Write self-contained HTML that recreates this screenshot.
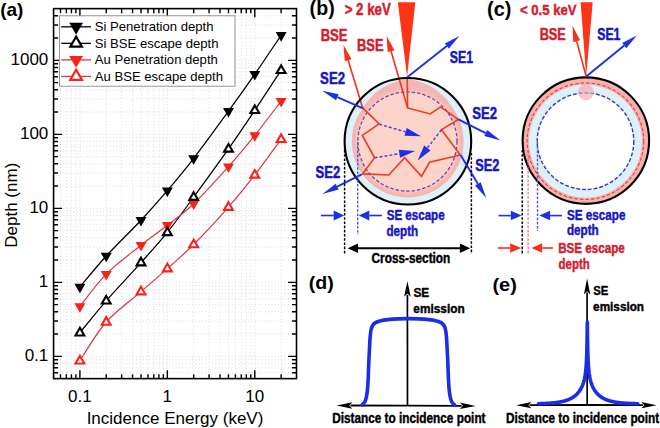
<!DOCTYPE html>
<html><head><meta charset="utf-8"><style>
html,body{margin:0;padding:0;background:#fff;}
svg{display:block;font-family:"Liberation Sans",sans-serif;}
</style></head><body>
<svg width="660" height="428" viewBox="0 0 660 428">
<defs><filter id="bl" x="-20%" y="-20%" width="140%" height="140%"><feGaussianBlur stdDeviation="1.6"/></filter></defs>
<rect width="660" height="428" fill="#fff"/>
<g stroke="#d4d4d4" stroke-width="0.85" stroke-dasharray="1 2.3" fill="none"><line x1="60.50" y1="8.63" x2="60.50" y2="378.63"/><line x1="66.35" y1="8.63" x2="66.35" y2="378.63"/><line x1="71.43" y1="8.63" x2="71.43" y2="378.63"/><line x1="75.90" y1="8.63" x2="75.90" y2="378.63"/><line x1="79.90" y1="8.63" x2="79.90" y2="378.63"/><line x1="106.23" y1="8.63" x2="106.23" y2="378.63"/><line x1="121.62" y1="8.63" x2="121.62" y2="378.63"/><line x1="132.55" y1="8.63" x2="132.55" y2="378.63"/><line x1="141.02" y1="8.63" x2="141.02" y2="378.63"/><line x1="147.95" y1="8.63" x2="147.95" y2="378.63"/><line x1="153.80" y1="8.63" x2="153.80" y2="378.63"/><line x1="158.88" y1="8.63" x2="158.88" y2="378.63"/><line x1="163.35" y1="8.63" x2="163.35" y2="378.63"/><line x1="167.35" y1="8.63" x2="167.35" y2="378.63"/><line x1="193.68" y1="8.63" x2="193.68" y2="378.63"/><line x1="209.07" y1="8.63" x2="209.07" y2="378.63"/><line x1="220.00" y1="8.63" x2="220.00" y2="378.63"/><line x1="228.47" y1="8.63" x2="228.47" y2="378.63"/><line x1="235.40" y1="8.63" x2="235.40" y2="378.63"/><line x1="241.25" y1="8.63" x2="241.25" y2="378.63"/><line x1="246.33" y1="8.63" x2="246.33" y2="378.63"/><line x1="250.80" y1="8.63" x2="250.80" y2="378.63"/><line x1="254.80" y1="8.63" x2="254.80" y2="378.63"/><line x1="281.13" y1="8.63" x2="281.13" y2="378.63"/><line x1="53.57" y1="372.77" x2="296.52" y2="372.77"/><line x1="53.57" y1="367.81" x2="296.52" y2="367.81"/><line x1="53.57" y1="363.52" x2="296.52" y2="363.52"/><line x1="53.57" y1="359.74" x2="296.52" y2="359.74"/><line x1="53.57" y1="356.35" x2="296.52" y2="356.35"/><line x1="53.57" y1="334.07" x2="296.52" y2="334.07"/><line x1="53.57" y1="321.04" x2="296.52" y2="321.04"/><line x1="53.57" y1="311.80" x2="296.52" y2="311.80"/><line x1="53.57" y1="304.63" x2="296.52" y2="304.63"/><line x1="53.57" y1="298.77" x2="296.52" y2="298.77"/><line x1="53.57" y1="293.81" x2="296.52" y2="293.81"/><line x1="53.57" y1="289.52" x2="296.52" y2="289.52"/><line x1="53.57" y1="285.74" x2="296.52" y2="285.74"/><line x1="53.57" y1="282.35" x2="296.52" y2="282.35"/><line x1="53.57" y1="260.07" x2="296.52" y2="260.07"/><line x1="53.57" y1="247.04" x2="296.52" y2="247.04"/><line x1="53.57" y1="237.80" x2="296.52" y2="237.80"/><line x1="53.57" y1="230.63" x2="296.52" y2="230.63"/><line x1="53.57" y1="224.77" x2="296.52" y2="224.77"/><line x1="53.57" y1="219.81" x2="296.52" y2="219.81"/><line x1="53.57" y1="215.52" x2="296.52" y2="215.52"/><line x1="53.57" y1="211.74" x2="296.52" y2="211.74"/><line x1="53.57" y1="208.35" x2="296.52" y2="208.35"/><line x1="53.57" y1="186.07" x2="296.52" y2="186.07"/><line x1="53.57" y1="173.04" x2="296.52" y2="173.04"/><line x1="53.57" y1="163.80" x2="296.52" y2="163.80"/><line x1="53.57" y1="156.63" x2="296.52" y2="156.63"/><line x1="53.57" y1="150.77" x2="296.52" y2="150.77"/><line x1="53.57" y1="145.81" x2="296.52" y2="145.81"/><line x1="53.57" y1="141.52" x2="296.52" y2="141.52"/><line x1="53.57" y1="137.74" x2="296.52" y2="137.74"/><line x1="53.57" y1="134.35" x2="296.52" y2="134.35"/><line x1="53.57" y1="112.07" x2="296.52" y2="112.07"/><line x1="53.57" y1="99.04" x2="296.52" y2="99.04"/><line x1="53.57" y1="89.80" x2="296.52" y2="89.80"/><line x1="53.57" y1="82.63" x2="296.52" y2="82.63"/><line x1="53.57" y1="76.77" x2="296.52" y2="76.77"/><line x1="53.57" y1="71.81" x2="296.52" y2="71.81"/><line x1="53.57" y1="67.52" x2="296.52" y2="67.52"/><line x1="53.57" y1="63.74" x2="296.52" y2="63.74"/><line x1="53.57" y1="60.35" x2="296.52" y2="60.35"/><line x1="53.57" y1="38.07" x2="296.52" y2="38.07"/><line x1="53.57" y1="25.04" x2="296.52" y2="25.04"/><line x1="53.57" y1="15.80" x2="296.52" y2="15.80"/></g>
<path d="M79.90,287.00C84.29,281.83 96.04,267.13 106.23,256.00C116.41,244.87 130.84,231.08 141.02,220.20C151.21,209.32 158.57,201.00 167.35,190.70C176.13,180.40 183.49,171.65 193.68,158.40C203.86,145.15 218.29,125.25 228.47,111.20C238.66,97.15 246.02,86.75 254.80,74.10C263.58,61.45 276.74,41.77 281.13,35.30" fill="none" stroke="#000" stroke-width="1.25"/>
<path d="M79.90,332.70C84.29,327.38 96.04,312.48 106.23,300.80C116.41,289.12 130.84,274.00 141.02,262.60C151.21,251.20 158.57,243.32 167.35,232.40C176.13,221.48 183.49,211.02 193.68,197.10C203.86,183.18 218.29,163.37 228.47,148.90C238.66,134.43 246.02,123.40 254.80,110.30C263.58,97.20 276.74,76.97 281.13,70.30" fill="none" stroke="#000" stroke-width="1.25"/>
<path d="M79.90,306.40C84.29,301.02 96.04,284.30 106.23,274.10C116.41,263.90 130.84,253.33 141.02,245.20C151.21,237.07 158.57,232.22 167.35,225.30C176.13,218.38 183.49,213.48 193.68,203.70C203.86,193.92 218.29,177.98 228.47,166.60C238.66,155.22 246.02,146.32 254.80,135.40C263.58,124.48 276.74,106.82 281.13,101.10" fill="none" stroke="#da3446" stroke-width="1.2"/>
<path d="M79.90,360.70C84.29,354.25 96.04,333.52 106.23,322.00C116.41,310.48 130.84,300.50 141.02,291.60C151.21,282.70 158.57,276.45 167.35,268.60C176.13,260.75 183.49,254.75 193.68,244.50C203.86,234.25 218.29,218.70 228.47,207.10C238.66,195.50 246.02,186.20 254.80,174.90C263.58,163.60 276.74,145.23 281.13,139.30" fill="none" stroke="#da3446" stroke-width="1.2"/>
<path d="M79.90,355.82L84.30,363.44L75.50,363.44Z" fill="#fff" stroke="#fa2216" stroke-width="2.1"/>
<path d="M106.23,317.12L110.63,324.74L101.83,324.74Z" fill="#fff" stroke="#fa2216" stroke-width="2.1"/>
<path d="M141.02,286.72L145.42,294.34L136.62,294.34Z" fill="#fff" stroke="#fa2216" stroke-width="2.1"/>
<path d="M167.35,263.72L171.75,271.34L162.95,271.34Z" fill="#fff" stroke="#fa2216" stroke-width="2.1"/>
<path d="M193.68,239.62L198.08,247.24L189.28,247.24Z" fill="#fff" stroke="#fa2216" stroke-width="2.1"/>
<path d="M228.47,202.22L232.87,209.84L224.07,209.84Z" fill="#fff" stroke="#fa2216" stroke-width="2.1"/>
<path d="M254.80,170.02L259.20,177.64L250.40,177.64Z" fill="#fff" stroke="#fa2216" stroke-width="2.1"/>
<path d="M281.13,134.42L285.53,142.04L276.73,142.04Z" fill="#fff" stroke="#fa2216" stroke-width="2.1"/>
<path d="M74.40,303.22L85.40,303.22L79.90,312.75Z" fill="#fa2216"/>
<path d="M100.73,270.92L111.73,270.92L106.23,280.45Z" fill="#fa2216"/>
<path d="M135.52,242.02L146.52,242.02L141.02,251.55Z" fill="#fa2216"/>
<path d="M161.85,222.12L172.85,222.12L167.35,231.65Z" fill="#fa2216"/>
<path d="M188.18,200.52L199.18,200.52L193.68,210.05Z" fill="#fa2216"/>
<path d="M222.97,163.42L233.97,163.42L228.47,172.95Z" fill="#fa2216"/>
<path d="M249.30,132.22L260.30,132.22L254.80,141.75Z" fill="#fa2216"/>
<path d="M275.63,97.92L286.63,97.92L281.13,107.45Z" fill="#fa2216"/>
<path d="M79.90,327.82L84.30,335.44L75.50,335.44Z" fill="#fff" stroke="#000" stroke-width="2.1"/>
<path d="M106.23,295.92L110.63,303.54L101.83,303.54Z" fill="#fff" stroke="#000" stroke-width="2.1"/>
<path d="M141.02,257.72L145.42,265.34L136.62,265.34Z" fill="#fff" stroke="#000" stroke-width="2.1"/>
<path d="M167.35,227.52L171.75,235.14L162.95,235.14Z" fill="#fff" stroke="#000" stroke-width="2.1"/>
<path d="M193.68,192.22L198.08,199.84L189.28,199.84Z" fill="#fff" stroke="#000" stroke-width="2.1"/>
<path d="M228.47,144.02L232.87,151.64L224.07,151.64Z" fill="#fff" stroke="#000" stroke-width="2.1"/>
<path d="M254.80,105.42L259.20,113.04L250.40,113.04Z" fill="#fff" stroke="#000" stroke-width="2.1"/>
<path d="M281.13,65.42L285.53,73.04L276.73,73.04Z" fill="#fff" stroke="#000" stroke-width="2.1"/>
<path d="M74.40,283.82L85.40,283.82L79.90,293.35Z" fill="#000"/>
<path d="M100.73,252.82L111.73,252.82L106.23,262.35Z" fill="#000"/>
<path d="M135.52,217.02L146.52,217.02L141.02,226.55Z" fill="#000"/>
<path d="M161.85,187.52L172.85,187.52L167.35,197.05Z" fill="#000"/>
<path d="M188.18,155.22L199.18,155.22L193.68,164.75Z" fill="#000"/>
<path d="M222.97,108.02L233.97,108.02L228.47,117.55Z" fill="#000"/>
<path d="M249.30,70.92L260.30,70.92L254.80,80.45Z" fill="#000"/>
<path d="M275.63,32.12L286.63,32.12L281.13,41.65Z" fill="#000"/>
<path d="M60.50,378.63v-4.5M60.50,8.63v4.5M66.35,378.63v-4.5M66.35,8.63v4.5M71.43,378.63v-4.5M71.43,8.63v4.5M75.90,378.63v-4.5M75.90,8.63v4.5M106.23,378.63v-4.5M106.23,8.63v4.5M121.62,378.63v-4.5M121.62,8.63v4.5M132.55,378.63v-4.5M132.55,8.63v4.5M141.02,378.63v-4.5M141.02,8.63v4.5M147.95,378.63v-4.5M147.95,8.63v4.5M153.80,378.63v-4.5M153.80,8.63v4.5M158.88,378.63v-4.5M158.88,8.63v4.5M163.35,378.63v-4.5M163.35,8.63v4.5M193.68,378.63v-4.5M193.68,8.63v4.5M209.07,378.63v-4.5M209.07,8.63v4.5M220.00,378.63v-4.5M220.00,8.63v4.5M228.47,378.63v-4.5M228.47,8.63v4.5M235.40,378.63v-4.5M235.40,8.63v4.5M241.25,378.63v-4.5M241.25,8.63v4.5M246.33,378.63v-4.5M246.33,8.63v4.5M250.80,378.63v-4.5M250.80,8.63v4.5M281.13,378.63v-4.5M281.13,8.63v4.5M53.57,372.77h4.5M296.52,372.77h-4.5M53.57,367.81h4.5M296.52,367.81h-4.5M53.57,363.52h4.5M296.52,363.52h-4.5M53.57,359.74h4.5M296.52,359.74h-4.5M53.57,334.07h4.5M296.52,334.07h-4.5M53.57,321.04h4.5M296.52,321.04h-4.5M53.57,311.80h4.5M296.52,311.80h-4.5M53.57,304.63h4.5M296.52,304.63h-4.5M53.57,298.77h4.5M296.52,298.77h-4.5M53.57,293.81h4.5M296.52,293.81h-4.5M53.57,289.52h4.5M296.52,289.52h-4.5M53.57,285.74h4.5M296.52,285.74h-4.5M53.57,260.07h4.5M296.52,260.07h-4.5M53.57,247.04h4.5M296.52,247.04h-4.5M53.57,237.80h4.5M296.52,237.80h-4.5M53.57,230.63h4.5M296.52,230.63h-4.5M53.57,224.77h4.5M296.52,224.77h-4.5M53.57,219.81h4.5M296.52,219.81h-4.5M53.57,215.52h4.5M296.52,215.52h-4.5M53.57,211.74h4.5M296.52,211.74h-4.5M53.57,186.07h4.5M296.52,186.07h-4.5M53.57,173.04h4.5M296.52,173.04h-4.5M53.57,163.80h4.5M296.52,163.80h-4.5M53.57,156.63h4.5M296.52,156.63h-4.5M53.57,150.77h4.5M296.52,150.77h-4.5M53.57,145.81h4.5M296.52,145.81h-4.5M53.57,141.52h4.5M296.52,141.52h-4.5M53.57,137.74h4.5M296.52,137.74h-4.5M53.57,112.07h4.5M296.52,112.07h-4.5M53.57,99.04h4.5M296.52,99.04h-4.5M53.57,89.80h4.5M296.52,89.80h-4.5M53.57,82.63h4.5M296.52,82.63h-4.5M53.57,76.77h4.5M296.52,76.77h-4.5M53.57,71.81h4.5M296.52,71.81h-4.5M53.57,67.52h4.5M296.52,67.52h-4.5M53.57,63.74h4.5M296.52,63.74h-4.5M53.57,38.07h4.5M296.52,38.07h-4.5M53.57,25.04h4.5M296.52,25.04h-4.5M53.57,15.80h4.5M296.52,15.80h-4.5M79.90,378.63v-8.5M79.90,8.63v8.5M167.35,378.63v-8.5M167.35,8.63v8.5M254.80,378.63v-8.5M254.80,8.63v8.5M53.57,356.35h8.5M296.52,356.35h-8.5M53.57,282.35h8.5M296.52,282.35h-8.5M53.57,208.35h8.5M296.52,208.35h-8.5M53.57,134.35h8.5M296.52,134.35h-8.5M53.57,60.35h8.5M296.52,60.35h-8.5" stroke="#000" stroke-width="1.4" fill="none"/>
<rect x="53.57" y="8.63" width="242.95" height="370.00" fill="none" stroke="#000" stroke-width="1.6"/>
<rect x="59.5" y="15.8" width="175.5" height="70.4" fill="#fff" stroke="#8a8a8a" stroke-width="0.9"/>
<line x1="61.2" y1="26.80" x2="91" y2="26.80" stroke="#000" stroke-width="1.3"/>
<path d="M69.20,22.82L83.00,22.82L76.10,34.77Z" fill="#000"/>
<text x="94.80" y="31.10" font-size="13.1" fill="#000">Si Penetration depth</text>
<line x1="61.2" y1="43.35" x2="91" y2="43.35" stroke="#000" stroke-width="1.3"/>
<path d="M76.10,36.65L81.90,46.70L70.30,46.70Z" fill="#fff" stroke="#000" stroke-width="2.2"/>
<text x="94.80" y="47.65" font-size="13.1" fill="#000">Si BSE escape depth</text>
<line x1="61.2" y1="59.90" x2="91" y2="59.90" stroke="#da3446" stroke-width="1.3"/>
<path d="M69.20,55.92L83.00,55.92L76.10,67.87Z" fill="#fa2216"/>
<text x="94.80" y="64.20" font-size="13.1" fill="#000">Au Penetration depth</text>
<line x1="61.2" y1="76.45" x2="91" y2="76.45" stroke="#da3446" stroke-width="1.3"/>
<path d="M76.10,69.75L81.90,79.80L70.30,79.80Z" fill="#fff" stroke="#fa2216" stroke-width="2.2"/>
<text x="94.80" y="80.75" font-size="13.1" fill="#000">Au BSE escape depth</text>
<text x="48.30" y="64.95" font-size="17" text-anchor="end" fill="#000">1000</text>
<text x="48.30" y="138.95" font-size="17" text-anchor="end" fill="#000">100</text>
<text x="48.30" y="212.95" font-size="17" text-anchor="end" fill="#000">10</text>
<text x="48.30" y="286.95" font-size="17" text-anchor="end" fill="#000">1</text>
<text x="48.30" y="360.95" font-size="17" text-anchor="end" fill="#000">0.1</text>
<text x="79.90" y="401.80" font-size="17" text-anchor="middle" fill="#000">0.1</text>
<text x="167.35" y="401.80" font-size="17" text-anchor="middle" fill="#000">1</text>
<text x="254.80" y="401.80" font-size="17" text-anchor="middle" fill="#000">10</text>
<text x="175.00" y="423.80" font-size="17" text-anchor="middle" fill="#000">Incidence Energy (keV)</text>
<g transform="translate(16.9,205.2) rotate(-90)"><text x="0.00" y="0.00" font-size="17" text-anchor="middle" fill="#000">Depth (nm)</text></g>
<text x="0.20" y="15.80" font-size="19" font-weight="bold" fill="#000">(a)</text>
<text transform="translate(309.62,15.10) scale(1.0063,1)" font-size="19.5" font-weight="bold" fill="#000">(b)</text>
<text transform="translate(344.64,15.40) scale(0.8197,1)" font-size="16.2" font-weight="bold" fill="#d41c2e" stroke="#d41c2e" stroke-width="0.5" stroke-linejoin="round">&gt; 2 keV</text>
<text transform="translate(320.63,41.00) scale(0.8040,1)" font-size="16.2" font-weight="bold" fill="#d41c2e" stroke="#d41c2e" stroke-width="0.5" stroke-linejoin="round">BSE</text>
<text transform="translate(357.04,50.90) scale(0.7976,1)" font-size="16.2" font-weight="bold" fill="#d41c2e" stroke="#d41c2e" stroke-width="0.5" stroke-linejoin="round">BSE</text>
<text transform="translate(449.84,62.80) scale(0.7609,1)" font-size="16.2" font-weight="bold" fill="#1616c0" stroke="#1616c0" stroke-width="0.5" stroke-linejoin="round">SE1</text>
<text transform="translate(320.12,83.80) scale(0.7938,1)" font-size="16.6" font-weight="bold" fill="#1616c0" stroke="#1616c0" stroke-width="0.5" stroke-linejoin="round">SE2</text>
<text transform="translate(472.22,118.90) scale(0.8100,1)" font-size="16.2" font-weight="bold" fill="#1616c0" stroke="#1616c0" stroke-width="0.5" stroke-linejoin="round">SE2</text>
<text transform="translate(475.23,170.70) scale(0.7897,1)" font-size="16.2" font-weight="bold" fill="#1616c0" stroke="#1616c0" stroke-width="0.5" stroke-linejoin="round">SE2</text>
<text transform="translate(315.52,177.80) scale(0.8100,1)" font-size="16.2" font-weight="bold" fill="#1616c0" stroke="#1616c0" stroke-width="0.5" stroke-linejoin="round">SE2</text>
<circle cx="407.9" cy="141.25" r="63.3" fill="#def0fa"/>
<polygon points="463.65,141.50 463.64,142.48 463.62,143.45 463.57,144.43 463.51,145.40 463.44,146.37 463.34,147.34 463.23,148.31 463.11,149.28 462.96,150.24 462.80,151.21 462.62,152.17 462.43,153.12 462.22,154.07 461.99,155.02 461.75,155.97 461.48,156.91 461.21,157.84 460.91,158.77 460.60,159.70 460.28,160.62 459.94,161.53 459.58,162.44 459.21,163.34 458.82,164.24 458.41,165.12 457.99,166.00 457.56,166.88 457.11,167.74 456.64,168.60 456.16,169.45 455.67,170.29 455.16,171.12 454.63,171.95 454.09,172.76 453.54,173.56 452.97,174.36 452.39,175.14 451.80,175.92 451.19,176.68 450.57,177.43 449.94,178.17 449.29,178.90 448.63,179.62 447.96,180.33 447.28,181.03 446.58,181.71 445.87,182.38 445.15,183.04 444.42,183.69 443.68,184.32 442.93,184.94 442.17,185.55 441.39,186.14 440.61,186.72 439.81,187.29 439.01,187.84 438.20,188.38 437.37,188.91 436.54,189.42 435.70,189.91 434.85,190.39 433.99,190.86 433.13,191.31 432.25,191.74 431.37,192.16 430.49,192.57 429.59,192.96 428.69,193.33 427.78,193.69 426.87,194.03 425.95,194.35 425.02,194.66 424.09,194.96 423.16,195.23 422.22,195.50 421.27,195.74 420.32,195.97 419.37,196.18 418.42,196.37 417.46,196.55 416.49,196.71 415.53,196.86 414.56,196.98 413.59,197.09 412.62,197.19 411.65,197.26 410.68,197.32 409.70,197.37 408.73,197.39 407.75,197.40 406.77,197.39 405.80,197.37 404.82,197.32 403.85,197.26 402.88,197.19 401.91,197.09 400.94,196.98 399.97,196.86 399.01,196.71 398.04,196.55 397.08,196.37 396.13,196.18 395.18,195.97 394.23,195.74 393.28,195.50 392.34,195.23 391.41,194.96 390.48,194.66 389.55,194.35 388.63,194.03 387.72,193.69 386.81,193.33 385.91,192.96 385.01,192.57 384.13,192.16 383.25,191.74 382.37,191.31 381.51,190.86 380.65,190.39 379.80,189.91 378.96,189.42 378.13,188.91 377.30,188.38 376.49,187.84 375.69,187.29 374.89,186.72 374.11,186.14 373.33,185.55 372.57,184.94 371.82,184.32 371.08,183.69 370.35,183.04 369.63,182.38 368.92,181.71 368.22,181.03 367.54,180.33 366.87,179.62 366.21,178.90 365.56,178.17 364.93,177.43 364.31,176.68 363.70,175.92 363.11,175.14 362.53,174.36 361.96,173.56 361.41,172.76 360.87,171.95 360.34,171.12 359.83,170.29 359.34,169.45 358.86,168.60 358.39,167.74 357.94,166.88 357.51,166.00 357.09,165.12 356.68,164.24 356.29,163.34 355.92,162.44 355.56,161.53 355.22,160.62 354.90,159.70 354.59,158.77 354.29,157.84 354.02,156.91 353.75,155.97 353.51,155.02 353.28,154.07 353.07,153.12 352.88,152.17 352.70,151.21 352.54,150.24 352.39,149.28 352.27,148.31 352.16,147.34 352.06,146.37 351.99,145.40 351.93,144.43 351.88,143.45 351.86,142.48 351.85,141.50 351.86,140.52 351.88,139.55 351.93,138.57 351.99,137.60 352.06,136.63 352.16,135.66 352.27,134.69 352.39,133.72 352.54,132.76 352.70,131.79 352.88,130.83 353.07,129.88 353.28,128.93 353.51,127.98 353.75,127.03 354.02,126.09 354.29,125.16 354.59,124.23 354.90,123.30 355.22,122.38 355.56,121.47 355.92,120.56 356.29,119.66 356.68,118.76 357.09,117.88 357.51,117.00 357.94,116.12 358.39,115.26 358.86,114.40 359.34,113.55 359.83,112.71 360.34,111.88 360.87,111.05 361.41,110.24 361.96,109.44 362.46,108.60 362.97,107.76 363.49,106.92 364.02,106.09 364.57,105.27 365.13,104.45 365.71,103.65 366.30,102.84 366.90,102.05 367.52,101.27 368.15,100.49 368.80,99.73 369.46,98.97 370.13,98.22 370.82,97.49 371.52,96.76 372.23,96.04 372.96,95.34 373.71,94.64 374.46,93.96 375.23,93.29 376.01,92.63 376.81,91.98 377.61,91.35 378.43,90.72 379.27,90.12 380.11,89.52 380.97,88.94 381.84,88.37 382.72,87.81 383.61,87.27 384.51,86.75 385.42,86.23 386.34,85.74 387.28,85.26 388.22,84.79 389.18,84.34 390.14,83.90 391.11,83.48 392.10,83.08 393.09,82.70 394.09,82.32 395.10,81.97 396.11,81.64 397.14,81.32 398.17,81.01 399.21,80.73 400.26,80.46 401.31,80.21 402.37,79.98 403.43,79.77 404.50,79.57 405.58,79.40 406.66,79.24 407.75,79.10 408.84,79.24 409.92,79.40 411.00,79.57 412.07,79.77 413.13,79.98 414.19,80.21 415.24,80.46 416.29,80.73 417.33,81.01 418.36,81.32 419.39,81.64 420.40,81.97 421.41,82.32 422.41,82.70 423.40,83.08 424.39,83.48 425.36,83.90 426.32,84.34 427.28,84.79 428.22,85.26 429.16,85.74 430.08,86.23 430.99,86.75 431.89,87.27 432.78,87.81 433.66,88.37 434.53,88.94 435.39,89.52 436.23,90.12 437.07,90.72 437.89,91.35 438.69,91.98 439.49,92.63 440.27,93.29 441.04,93.96 441.79,94.64 442.54,95.34 443.27,96.04 443.98,96.76 444.68,97.49 445.37,98.22 446.04,98.97 446.70,99.73 447.35,100.49 447.98,101.27 448.60,102.05 449.20,102.84 449.79,103.65 450.37,104.45 450.93,105.27 451.48,106.09 452.01,106.92 452.53,107.76 453.04,108.60 453.54,109.44 454.09,110.24 454.63,111.05 455.16,111.88 455.67,112.71 456.16,113.55 456.64,114.40 457.11,115.26 457.56,116.12 457.99,117.00 458.41,117.88 458.82,118.76 459.21,119.66 459.58,120.56 459.94,121.47 460.28,122.38 460.60,123.30 460.91,124.23 461.21,125.16 461.48,126.09 461.75,127.03 461.99,127.98 462.22,128.93 462.43,129.88 462.62,130.83 462.80,131.79 462.96,132.76 463.11,133.72 463.23,134.69 463.34,135.66 463.44,136.63 463.51,137.60 463.57,138.57 463.62,139.55 463.64,140.52 463.65,141.50" fill="#f6b6b0"/>
<circle cx="407.5" cy="141.5" r="51" fill="#fcd4ca" filter="url(#bl)"/>
<circle cx="407.45" cy="141.5" r="49.6" fill="none" stroke="#6446b4" stroke-width="1.3" stroke-dasharray="3.4 2"/>
<polyline points="407.2,77.5 407.6,107.9 430.3,114 440.6,106.9 458.3,119.5 441.5,129.7 460.3,155 429.5,162.3 421.5,176.4 404.6,157.6 388.8,175 362.5,173.9 374.6,157.8 362.3,135.4 379.2,123.8 362.7,107.9" fill="none" stroke="#ee3a24" stroke-width="1.6" stroke-linejoin="miter"/>
<line x1="362.70" y1="107.90" x2="348.16" y2="60.21" stroke="#f5301c" stroke-width="1.6"/><path d="M343.50,44.90L351.51,59.18L344.82,61.23Z" fill="#f5301c"/>
<line x1="407.60" y1="107.90" x2="391.08" y2="51.26" stroke="#f5301c" stroke-width="1.6"/><path d="M386.60,35.90L394.44,50.28L387.72,52.24Z" fill="#f5301c"/>
<line x1="379.20" y1="124.20" x2="405.63" y2="131.85" stroke="#4a3ed2" stroke-width="1.4" stroke-dasharray="3 2"/><path d="M421.00,136.30L404.52,135.69L406.74,128.01Z" fill="#1c30e6"/>
<line x1="374.60" y1="157.80" x2="399.41" y2="153.71" stroke="#4a3ed2" stroke-width="1.4" stroke-dasharray="3 2"/><path d="M415.20,151.10L400.06,157.65L398.76,149.76Z" fill="#1c30e6"/>
<line x1="441.50" y1="129.70" x2="427.39" y2="147.94" stroke="#4a3ed2" stroke-width="1.4" stroke-dasharray="3 2"/><path d="M417.60,160.60L424.22,145.50L430.55,150.39Z" fill="#1c30e6"/>
<circle cx="407.9" cy="141.25" r="63.3" fill="none" stroke="#000" stroke-width="2.1"/>
<line x1="363.10" y1="108.30" x2="337.36" y2="97.22" stroke="#1c30e6" stroke-width="1.9"/><path d="M322.20,90.70L338.66,94.19L336.05,100.25Z" fill="#1c30e6"/>
<line x1="458.40" y1="119.40" x2="485.73" y2="133.04" stroke="#1c30e6" stroke-width="1.9"/><path d="M500.50,140.40L484.26,135.99L487.21,130.08Z" fill="#1c30e6"/>
<line x1="460.60" y1="155.00" x2="477.84" y2="183.84" stroke="#1c30e6" stroke-width="1.9"/><path d="M486.30,198.00L475.00,185.53L480.67,182.14Z" fill="#1c30e6"/>
<line x1="361.70" y1="174.40" x2="337.17" y2="186.64" stroke="#1c30e6" stroke-width="1.9"/><path d="M322.40,194.00L335.69,183.68L338.64,189.59Z" fill="#1c30e6"/>
<line x1="407.20" y1="77.20" x2="446.83" y2="46.00" stroke="#1c30e6" stroke-width="1.9"/><path d="M459.40,36.10L448.87,48.59L444.79,43.41Z" fill="#1c30e6"/>
<path d="M397.8,2.2 L415.3,2.2 L407.1,76.8Z" fill="#fb3516"/>
<line x1="344.6" y1="150" x2="344.6" y2="254" stroke="#000" stroke-width="1.45" stroke-dasharray="2.6 1.6"/>
<line x1="471.4" y1="153" x2="471.4" y2="254" stroke="#000" stroke-width="1.45" stroke-dasharray="2.6 1.6"/>
<line x1="357.7" y1="142" x2="357.7" y2="235" stroke="#5656d0" stroke-width="1.4" stroke-dasharray="2.6 1.6"/>
<line x1="320.80" y1="215.50" x2="333.70" y2="215.50" stroke="#1c30e6" stroke-width="1.6"/><path d="M344.20,215.50L333.70,220.50L333.70,210.50Z" fill="#1c30e6"/>
<line x1="381.90" y1="215.50" x2="369.30" y2="215.50" stroke="#1c30e6" stroke-width="1.6"/><path d="M358.80,215.50L369.30,210.50L369.30,220.50Z" fill="#1c30e6"/>
<text transform="translate(386.65,220.40) scale(0.8060,1)" font-size="14.4" font-weight="bold" fill="#1616c0" stroke="#1616c0" stroke-width="0.45" stroke-linejoin="round">SE escape</text>
<text transform="translate(386.50,235.60) scale(0.8099,1)" font-size="14.4" font-weight="bold" fill="#1616c0" stroke="#1616c0" stroke-width="0.45" stroke-linejoin="round">depth</text>
<line x1="409.00" y1="248.20" x2="358.00" y2="248.20" stroke="#000" stroke-width="2"/><path d="M347.70,248.20L358.00,243.40L358.00,253.00Z" fill="#000"/>
<line x1="409.00" y1="248.20" x2="459.90" y2="248.20" stroke="#000" stroke-width="2"/><path d="M470.20,248.20L459.90,253.00L459.90,243.40Z" fill="#000"/>
<text transform="translate(371.60,263.00) scale(0.8202,1)" font-size="14.4" font-weight="bold" fill="#000" stroke="#000" stroke-width="0.45" stroke-linejoin="round">Cross-section</text>
<text transform="translate(487.01,15.80) scale(1.0233,1)" font-size="19.5" font-weight="bold" fill="#000">(c)</text>
<text transform="translate(519.93,14.80) scale(0.9010,1)" font-size="14.6" font-weight="bold" fill="#d41c2e" stroke="#d41c2e" stroke-width="0.45" stroke-linejoin="round">&lt; 0.5 keV</text>
<text transform="translate(539.65,40.00) scale(0.8152,1)" font-size="15.6" font-weight="bold" fill="#d41c2e" stroke="#d41c2e" stroke-width="0.5" stroke-linejoin="round">BSE</text>
<text transform="translate(597.25,40.30) scale(0.7866,1)" font-size="15.6" font-weight="bold" fill="#1616c0" stroke="#1616c0" stroke-width="0.5" stroke-linejoin="round">SE1</text>
<circle cx="585.85" cy="140.6" r="63.25" fill="#f6b3ae"/>
<circle cx="585.45" cy="141.1" r="56.4" fill="#def0fa"/>
<circle cx="585.45" cy="141.2" r="47.6" fill="#fff"/>
<circle cx="585.4" cy="141.2" r="58.3" fill="none" stroke="#e8414a" stroke-width="1.2" stroke-dasharray="3.5 2"/>
<circle cx="585.5" cy="141.2" r="48.3" fill="none" stroke="#3438c8" stroke-width="1.4" stroke-dasharray="3.8 2"/>
<circle cx="585.9" cy="92.3" r="8.0" fill="#f5a6aa" fill-opacity="0.65"/>
<circle cx="585.85" cy="140.6" r="63.25" fill="none" stroke="#000" stroke-width="2.1"/>
<line x1="586.20" y1="76.50" x2="576.67" y2="41.25" stroke="#f5301c" stroke-width="1.6"/><path d="M572.50,25.80L580.05,40.33L573.29,42.16Z" fill="#f5301c"/>
<line x1="586.20" y1="76.50" x2="624.28" y2="45.58" stroke="#1c30e6" stroke-width="1.9"/><path d="M636.70,35.50L626.36,48.15L622.20,43.02Z" fill="#1c30e6"/>
<path d="M580.6,2.3 L592.7,2.3 L586.2,76Z" fill="#fb3516"/>
<line x1="522.2" y1="150" x2="522.2" y2="254" stroke="#000" stroke-width="1.45" stroke-dasharray="2.6 1.6"/>
<line x1="528.1" y1="150" x2="528.1" y2="254" stroke="#e8606a" stroke-width="1.1" stroke-dasharray="2.6 1.6"/>
<line x1="537.5" y1="142" x2="537.5" y2="231" stroke="#5656d0" stroke-width="1.4" stroke-dasharray="2.6 1.6"/>
<line x1="498.50" y1="215.60" x2="510.80" y2="215.60" stroke="#1c30e6" stroke-width="1.6"/><path d="M521.60,215.60L510.80,220.35L510.80,210.85Z" fill="#1c30e6"/>
<line x1="562.00" y1="215.60" x2="550.10" y2="215.60" stroke="#1c30e6" stroke-width="1.6"/><path d="M539.30,215.60L550.10,210.85L550.10,220.35Z" fill="#1c30e6"/>
<line x1="498.00" y1="248.00" x2="510.20" y2="248.00" stroke="#f5301c" stroke-width="1.6"/><path d="M521.00,248.00L510.20,252.75L510.20,243.25Z" fill="#f5301c"/>
<line x1="553.10" y1="248.00" x2="542.20" y2="248.00" stroke="#f5301c" stroke-width="1.6"/><path d="M531.40,248.00L542.20,243.25L542.20,252.75Z" fill="#f5301c"/>
<text transform="translate(567.04,219.80) scale(0.8230,1)" font-size="14.2" font-weight="bold" fill="#1616c0" stroke="#1616c0" stroke-width="0.45" stroke-linejoin="round">SE escape</text>
<text transform="translate(566.90,235.20) scale(0.8240,1)" font-size="14.2" font-weight="bold" fill="#1616c0" stroke="#1616c0" stroke-width="0.45" stroke-linejoin="round">depth</text>
<text transform="translate(558.20,252.70) scale(0.8194,1)" font-size="14.2" font-weight="bold" fill="#d41c2e" stroke="#d41c2e" stroke-width="0.45" stroke-linejoin="round">BSE escape</text>
<text transform="translate(558.51,268.50) scale(0.8079,1)" font-size="14.2" font-weight="bold" fill="#d41c2e" stroke="#d41c2e" stroke-width="0.45" stroke-linejoin="round">depth</text>
<text transform="translate(308.82,289.20) scale(1.0327,1)" font-size="19" font-weight="bold" fill="#000">(d)</text>
<line x1="407.50" y1="405.70" x2="407.41" y2="294.84" stroke="#000" stroke-width="1.7"/><path d="M407.40,281.20L410.76,296.70L407.41,293.60L404.06,296.70Z" fill="#000"/>
<line x1="407.50" y1="405.60" x2="350.48" y2="405.52" stroke="#000" stroke-width="1.8"/><path d="M336.40,405.50L352.40,402.17L349.20,405.52L352.40,408.87Z" fill="#000"/>
<line x1="407.50" y1="405.60" x2="461.62" y2="405.84" stroke="#000" stroke-width="1.8"/><path d="M475.70,405.90L459.69,409.08L462.90,405.84L459.71,402.58Z" fill="#000"/>
<text transform="translate(413.42,296.60) scale(0.9465,1)" font-size="12.5" font-weight="bold" fill="#000" stroke="#000" stroke-width="0.4" stroke-linejoin="round">SE</text>
<text transform="translate(413.30,312.50) scale(0.9482,1)" font-size="12.5" font-weight="bold" fill="#000" stroke="#000" stroke-width="0.4" stroke-linejoin="round">emission</text>
<text transform="translate(332.17,422.50) scale(0.8556,1)" font-size="13.8" font-weight="bold" fill="#000" stroke="#000" stroke-width="0.4" stroke-linejoin="round">Distance to incidence point</text>
<path d="M362.00,405.00C362.48,404.47 364.13,403.30 364.90,401.80C365.67,400.30 366.15,398.30 366.60,396.00C367.05,393.70 367.33,391.00 367.60,388.00C367.87,385.00 368.00,382.33 368.20,378.00C368.40,373.67 368.58,367.00 368.80,362.00C369.02,357.00 369.28,352.08 369.50,348.00C369.72,343.92 369.85,340.50 370.10,337.50C370.35,334.50 370.58,332.00 371.00,330.00C371.42,328.00 371.85,326.73 372.60,325.50C373.35,324.27 374.27,323.37 375.50,322.60C376.73,321.83 377.92,321.40 380.00,320.90C382.08,320.40 385.00,319.93 388.00,319.60C391.00,319.27 394.62,319.07 398.00,318.90C401.38,318.73 404.87,318.60 408.30,318.60C411.73,318.60 415.22,318.73 418.60,318.90C421.98,319.07 425.60,319.27 428.60,319.60C431.60,319.93 434.52,320.40 436.60,320.90C438.68,321.40 439.87,321.83 441.10,322.60C442.33,323.37 443.25,324.27 444.00,325.50C444.75,326.73 445.18,328.00 445.60,330.00C446.02,332.00 446.25,334.50 446.50,337.50C446.75,340.50 446.88,343.92 447.10,348.00C447.32,352.08 447.58,357.00 447.80,362.00C448.02,367.00 448.20,373.67 448.40,378.00C448.60,382.33 448.73,385.00 449.00,388.00C449.27,391.00 449.55,393.70 450.00,396.00C450.45,398.30 450.93,400.30 451.70,401.80C452.47,403.30 454.12,404.47 454.60,405.00" fill="none" stroke="#1a2eea" stroke-width="3.6" stroke-linejoin="round" stroke-linecap="round"/>
<text transform="translate(492.41,290.60) scale(1.0502,1)" font-size="19" font-weight="bold" fill="#000">(e)</text>
<line x1="587.15" y1="405.00" x2="587.11" y2="292.50" stroke="#000" stroke-width="1.7"/><path d="M587.10,278.60L590.31,294.40L587.10,291.24L583.91,294.40Z" fill="#000"/>
<line x1="587.15" y1="405.00" x2="529.56" y2="405.16" stroke="#000" stroke-width="1.8"/><path d="M516.10,405.20L531.39,402.01L528.34,405.17L531.41,408.31Z" fill="#000"/>
<line x1="587.15" y1="405.00" x2="643.14" y2="405.16" stroke="#000" stroke-width="1.8"/><path d="M656.60,405.20L641.29,408.31L644.36,405.16L641.31,402.01Z" fill="#000"/>
<text transform="translate(593.24,295.00) scale(0.9023,1)" font-size="12.5" font-weight="bold" fill="#000" stroke="#000" stroke-width="0.4" stroke-linejoin="round">SE</text>
<text transform="translate(593.10,311.40) scale(0.9406,1)" font-size="12.5" font-weight="bold" fill="#000" stroke="#000" stroke-width="0.4" stroke-linejoin="round">emission</text>
<text transform="translate(505.97,422.50) scale(0.8545,1)" font-size="13.8" font-weight="bold" fill="#000" stroke="#000" stroke-width="0.4" stroke-linejoin="round">Distance to incidence point</text>
<polyline points="538.50,403.72 538.67,403.71 538.83,403.71 539.00,403.70 539.16,403.70 539.33,403.69 539.49,403.69 539.66,403.68 539.82,403.68 539.99,403.67 540.15,403.66 540.32,403.66 540.49,403.65 540.65,403.65 540.82,403.64 540.98,403.64 541.15,403.63 541.31,403.62 541.48,403.62 541.64,403.61 541.81,403.61 541.98,403.60 542.14,403.59 542.31,403.59 542.47,403.58 542.64,403.57 542.80,403.57 542.97,403.56 543.13,403.55 543.30,403.55 543.47,403.54 543.63,403.53 543.80,403.53 543.96,403.52 544.13,403.51 544.29,403.50 544.46,403.50 544.62,403.49 544.79,403.48 544.95,403.47 545.12,403.46 545.29,403.46 545.45,403.45 545.62,403.44 545.78,403.43 545.95,403.42 546.11,403.41 546.28,403.40 546.44,403.40 546.61,403.39 546.77,403.38 546.94,403.37 547.11,403.36 547.27,403.35 547.44,403.34 547.60,403.33 547.77,403.32 547.93,403.31 548.10,403.30 548.26,403.29 548.43,403.28 548.60,403.27 548.76,403.26 548.93,403.25 549.09,403.23 549.26,403.22 549.42,403.21 549.59,403.20 549.75,403.19 549.92,403.18 550.09,403.16 550.25,403.15 550.42,403.14 550.58,403.13 550.75,403.11 550.91,403.10 551.08,403.09 551.24,403.07 551.41,403.06 551.57,403.05 551.74,403.03 551.91,403.02 552.07,403.00 552.24,402.99 552.40,402.97 552.57,402.96 552.73,402.94 552.90,402.93 553.06,402.91 553.23,402.90 553.39,402.88 553.56,402.86 553.73,402.85 553.89,402.83 554.06,402.81 554.22,402.79 554.39,402.78 554.55,402.76 554.72,402.74 554.88,402.72 555.05,402.70 555.22,402.68 555.38,402.67 555.55,402.65 555.71,402.63 555.88,402.61 556.04,402.58 556.21,402.56 556.37,402.54 556.54,402.52 556.71,402.50 556.87,402.48 557.04,402.45 557.20,402.43 557.37,402.41 557.53,402.38 557.70,402.36 557.86,402.34 558.03,402.31 558.19,402.29 558.36,402.26 558.53,402.24 558.69,402.21 558.86,402.18 559.02,402.16 559.19,402.13 559.35,402.10 559.52,402.07 559.68,402.04 559.85,402.01 560.01,401.98 560.18,401.95 560.35,401.92 560.51,401.89 560.68,401.86 560.84,401.83 561.01,401.80 561.17,401.76 561.34,401.73 561.50,401.70 561.67,401.66 561.84,401.63 562.00,401.59 562.17,401.55 562.33,401.52 562.50,401.48 562.66,401.44 562.83,401.40 562.99,401.36 563.16,401.32 563.33,401.28 563.49,401.24 563.66,401.20 563.82,401.16 563.99,401.11 564.15,401.07 564.32,401.03 564.48,400.98 564.65,400.93 564.81,400.89 564.98,400.84 565.15,400.79 565.31,400.74 565.48,400.69 565.64,400.64 565.81,400.59 565.97,400.54 566.14,400.48 566.30,400.43 566.47,400.37 566.63,400.32 566.80,400.26 566.97,400.20 567.13,400.14 567.30,400.08 567.46,400.02 567.63,399.96 567.79,399.90 567.96,399.84 568.12,399.77 568.29,399.70 568.46,399.64 568.62,399.57 568.79,399.50 568.95,399.43 569.12,399.36 569.28,399.28 569.45,399.21 569.61,399.13 569.78,399.06 569.94,398.98 570.11,398.90 570.28,398.82 570.44,398.74 570.61,398.65 570.77,398.57 570.94,398.48 571.10,398.39 571.27,398.30 571.43,398.21 571.60,398.12 571.77,398.03 571.93,397.93 572.10,397.83 572.26,397.73 572.43,397.63 572.59,397.53 572.76,397.42 572.92,397.32 573.09,397.21 573.25,397.10 573.42,396.99 573.59,396.87 573.75,396.75 573.92,396.64 574.08,396.51 574.25,396.39 574.41,396.27 574.58,396.14 574.74,396.01 574.91,395.88 575.08,395.74 575.24,395.60 575.41,395.46 575.57,395.32 575.74,395.17 575.90,395.02 576.07,394.87 576.23,394.72 576.40,394.56 576.56,394.40 576.73,394.23 576.90,394.07 577.06,393.90 577.23,393.72 577.39,393.54 577.56,393.36 577.72,393.18 577.89,392.99 578.05,392.79 578.22,392.60 578.39,392.39 578.55,392.19 578.72,391.98 578.88,391.76 579.05,391.54 579.21,391.31 579.38,391.08 579.54,390.85 579.71,390.60 579.88,390.35 580.04,390.10 580.21,389.84 580.37,389.57 580.54,389.29 580.70,389.01 580.87,388.72 581.03,388.42 581.20,388.11 581.36,387.79 581.53,387.46 581.70,387.13 581.86,386.78 582.03,386.42 582.19,386.04 582.36,385.66 582.52,385.26 582.69,384.84 582.85,384.41 583.02,383.95 583.18,383.48 583.35,382.99 583.52,382.47 583.68,381.93 583.85,381.36 584.01,380.75 584.18,380.11 584.34,379.43 584.51,378.70 584.67,377.91 584.84,377.07 585.01,376.15 585.17,375.15 585.34,374.04 585.50,372.82 585.67,371.44 585.83,369.88 586.00,368.08 586.16,365.97 586.33,363.46 586.50,360.38 586.66,356.49 586.83,351.39 586.99,344.34 587.16,333.82 587.32,322.10 587.49,337.16 587.65,346.51 587.82,352.93 587.98,357.65 588.15,361.28 588.32,364.19 588.48,366.58 588.65,368.60 588.81,370.33 588.98,371.83 589.14,373.17 589.31,374.36 589.47,375.43 589.64,376.41 589.80,377.31 589.97,378.13 590.14,378.90 590.30,379.62 590.47,380.29 590.63,380.92 590.80,381.51 590.96,382.08 591.13,382.62 591.29,383.13 591.46,383.61 591.63,384.08 591.79,384.52 591.96,384.95 592.12,385.37 592.29,385.76 592.45,386.15 592.62,386.52 592.78,386.87 592.95,387.22 593.12,387.55 593.28,387.88 593.45,388.19 593.61,388.50 593.78,388.80 593.94,389.09 594.11,389.37 594.27,389.64 594.44,389.91 594.60,390.17 594.77,390.42 594.94,390.67 595.10,390.91 595.27,391.15 595.43,391.38 595.60,391.60 595.76,391.82 595.93,392.03 596.09,392.24 596.26,392.45 596.42,392.65 596.59,392.85 596.76,393.04 596.92,393.23 597.09,393.41 597.25,393.59 597.42,393.77 597.58,393.94 597.75,394.11 597.91,394.28 598.08,394.44 598.25,394.60 598.41,394.76 598.58,394.91 598.74,395.06 598.91,395.21 599.07,395.36 599.24,395.50 599.40,395.64 599.57,395.78 599.74,395.91 599.90,396.04 600.07,396.17 600.23,396.30 600.40,396.43 600.56,396.55 600.73,396.67 600.89,396.79 601.06,396.90 601.22,397.02 601.39,397.13 601.56,397.24 601.72,397.35 601.89,397.45 602.05,397.56 602.22,397.66 602.38,397.76 602.55,397.86 602.71,397.96 602.88,398.05 603.04,398.15 603.21,398.24 603.38,398.33 603.54,398.42 603.71,398.51 603.87,398.59 604.04,398.68 604.20,398.76 604.37,398.84 604.53,398.92 604.70,399.00 604.87,399.08 605.03,399.16 605.20,399.23 605.36,399.30 605.53,399.38 605.69,399.45 605.86,399.52 606.02,399.59 606.19,399.66 606.36,399.72 606.52,399.79 606.69,399.85 606.85,399.92 607.02,399.98 607.18,400.04 607.35,400.10 607.51,400.16 607.68,400.22 607.84,400.28 608.01,400.33 608.18,400.39 608.34,400.44 608.51,400.50 608.67,400.55 608.84,400.60 609.00,400.65 609.17,400.71 609.33,400.76 609.50,400.80 609.66,400.85 609.83,400.90 610.00,400.95 610.16,400.99 610.33,401.04 610.49,401.08 610.66,401.13 610.82,401.17 610.99,401.21 611.15,401.25 611.32,401.29 611.49,401.33 611.65,401.37 611.82,401.41 611.98,401.45 612.15,401.49 612.31,401.53 612.48,401.56 612.64,401.60 612.81,401.64 612.97,401.67 613.14,401.71 613.31,401.74 613.47,401.77 613.64,401.81 613.80,401.84 613.97,401.87 614.13,401.90 614.30,401.93 614.46,401.96 614.63,401.99 614.80,402.02 614.96,402.05 615.13,402.08 615.29,402.11 615.46,402.14 615.62,402.16 615.79,402.19 615.95,402.22 616.12,402.24 616.28,402.27 616.45,402.29 616.62,402.32 616.78,402.34 616.95,402.37 617.11,402.39 617.28,402.41 617.44,402.44 617.61,402.46 617.77,402.48 617.94,402.51 618.11,402.53 618.27,402.55 618.44,402.57 618.60,402.59 618.77,402.61 618.93,402.63 619.10,402.65 619.26,402.67 619.43,402.69 619.60,402.71 619.76,402.73 619.93,402.75 620.09,402.76 620.26,402.78 620.42,402.80 620.59,402.82 620.75,402.83 620.92,402.85 621.08,402.87 621.25,402.88 621.42,402.90 621.58,402.92 621.75,402.93 621.91,402.95 622.08,402.96 622.24,402.98 622.41,402.99 622.57,403.01 622.74,403.02 622.90,403.04 623.07,403.05 623.24,403.06 623.40,403.08 623.57,403.09 623.73,403.10 623.90,403.12 624.06,403.13 624.23,403.14 624.39,403.15 624.56,403.17 624.73,403.18 624.89,403.19 625.06,403.20 625.22,403.21 625.39,403.23 625.55,403.24 625.72,403.25 625.88,403.26 626.05,403.27 626.21,403.28 626.38,403.29 626.55,403.30 626.71,403.31 626.88,403.32 627.04,403.33 627.21,403.34 627.37,403.35 627.54,403.36 627.70,403.37 627.87,403.38 628.04,403.39 628.20,403.40 628.37,403.41 628.53,403.42 628.70,403.42 628.86,403.43 629.03,403.44 629.19,403.45 629.36,403.46 629.52,403.47 629.69,403.47 629.86,403.48 630.02,403.49 630.19,403.50 630.35,403.51 630.52,403.51 630.68,403.52 630.85,403.53 631.01,403.53 631.18,403.54 631.35,403.55 631.51,403.56 631.68,403.56 631.84,403.57 632.01,403.58 632.17,403.58 632.34,403.59 632.50,403.60 632.67,403.60 632.83,403.61 633.00,403.61 633.17,403.62 633.33,403.63 633.50,403.63 633.66,403.64 633.83,403.64 633.99,403.65 634.16,403.66 634.32,403.66 634.49,403.67 634.66,403.67 634.82,403.68 634.99,403.68 635.15,403.69 635.32,403.69 635.48,403.70 635.65,403.70 635.81,403.71 635.98,403.71 636.14,403.72 636.31,403.72 636.48,403.73 636.64,403.73 636.81,403.74 636.97,403.74 637.14,403.75 637.30,403.75 637.47,403.75 637.63,403.75 637.80,403.75" fill="none" stroke="#1a2eea" stroke-width="3.6" stroke-linejoin="round" stroke-linecap="round"/>
</svg>
</body></html>
